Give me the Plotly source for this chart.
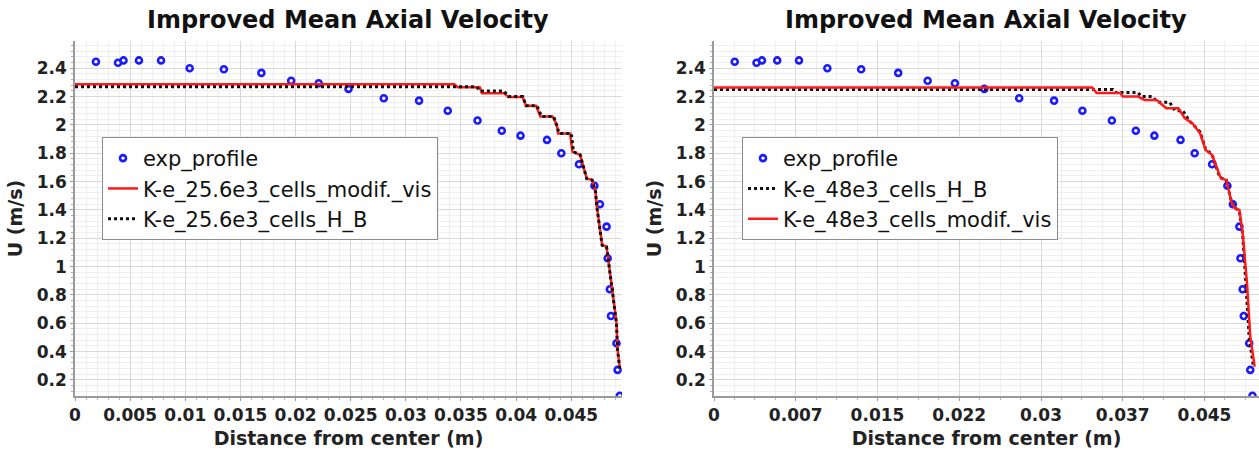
import plotly.graph_objects as go

# ---------------- data ----------------
exp_x = [0.0019, 0.0039, 0.0044, 0.0058, 0.0078, 0.0104, 0.0135, 0.0169, 0.0196, 0.0221,
         0.0248, 0.0280, 0.0312, 0.0338, 0.0365, 0.0387, 0.0404, 0.0428, 0.0441, 0.0457,
         0.0471, 0.0476, 0.0482, 0.0483, 0.0485, 0.0486, 0.0491, 0.0492, 0.0494]
exp_u = [2.446, 2.439, 2.455, 2.455, 2.455, 2.400, 2.393, 2.367, 2.311, 2.294,
         2.254, 2.188, 2.171, 2.100, 2.031, 1.959, 1.924, 1.894, 1.800, 1.722,
         1.571, 1.440, 1.282, 1.059, 0.840, 0.652, 0.459, 0.271, 0.089]

# left panel: 25.6e3 cells
l_mod_x = [0, 0.0344, 0.0347, 0.0367, 0.0369, 0.0389, 0.0393, 0.0406, 0.0409, 0.0418,
           0.0422, 0.0433, 0.0437, 0.0438, 0.0449, 0.0451, 0.0458, 0.0464, 0.0469, 0.0472,
           0.0473, 0.0476, 0.0478, 0.0482, 0.0485, 0.0488, 0.0491, 0.0492, 0.0494]
l_mod_u = [2.287, 2.287, 2.266, 2.266, 2.224, 2.224, 2.196, 2.196, 2.135, 2.135,
           2.060, 2.060, 2.000, 1.940, 1.940, 1.811, 1.788, 1.623, 1.611, 1.529,
           1.435, 1.282, 1.153, 1.141, 0.976, 0.788, 0.600, 0.412, 0.283]
l_hb_x = [0, 0.0364, 0.0367, 0.0389, 0.0393, 0.0406, 0.0409, 0.0419, 0.0423, 0.0434,
          0.0437, 0.0439, 0.0450, 0.0452, 0.0458, 0.0464, 0.0469, 0.0472, 0.0473, 0.0476,
          0.0478, 0.0482, 0.0485, 0.0488, 0.0491, 0.0492, 0.0494]
l_hb_u = [2.270, 2.270, 2.240, 2.240, 2.200, 2.200, 2.135, 2.135, 2.060, 2.060,
          1.990, 1.940, 1.940, 1.810, 1.790, 1.620, 1.610, 1.530, 1.430, 1.280,
          1.150, 1.140, 0.970, 0.790, 0.600, 0.410, 0.280]

# right panel: 48e3 cells
r_mod_x = [0, 0.0347, 0.0351, 0.0373, 0.0375, 0.0389, 0.0395, 0.0406, 0.0415, 0.0426,
           0.0432, 0.0439, 0.0446, 0.0451, 0.0457, 0.0465, 0.0470, 0.0475, 0.0478, 0.0482,
           0.0485, 0.0489, 0.0492, 0.0496]
r_mod_u = [2.263, 2.263, 2.225, 2.225, 2.200, 2.200, 2.176, 2.176, 2.117, 2.117,
           2.047, 2.011, 1.940, 1.823, 1.788, 1.623, 1.611, 1.447, 1.411, 1.400,
           1.235, 0.882, 0.506, 0.294]
r_hb_x = [0, 0.0366, 0.0368, 0.0389, 0.0392, 0.0402, 0.0407, 0.0418, 0.0423, 0.0430,
          0.0436, 0.0446, 0.0451, 0.0457, 0.0464, 0.0470, 0.0475, 0.0479, 0.0482, 0.0485,
          0.0488, 0.0491, 0.0495]
r_hb_u = [2.249, 2.249, 2.228, 2.228, 2.200, 2.200, 2.160, 2.160, 2.100, 2.100,
          2.030, 1.950, 1.830, 1.790, 1.630, 1.610, 1.450, 1.410, 1.390, 1.230,
          0.880, 0.500, 0.290]

left_tickvals = [0, 0.005, 0.01, 0.015, 0.02, 0.025, 0.03, 0.035, 0.04, 0.045]
left_ticktext = ["0", "0.005", "0.01", "0.015", "0.02", "0.025", "0.03", "0.035", "0.04", "0.045"]
right_tickvals = [0, 0.0075, 0.015, 0.0225, 0.03, 0.0375, 0.045]
right_ticktext = ["0", "0.007", "0.015", "0.022", "0.03", "0.037", "0.045"]
y_tickvals = [0.2, 0.4, 0.6, 0.8, 1.0, 1.2, 1.4, 1.6, 1.8, 2.0, 2.2, 2.4]
y_ticktext = ["0.2", "0.4", "0.6", "0.8", "1", "1.2", "1.4", "1.6", "1.8", "2", "2.2", "2.4"]

title_text = "Improved Mean Axial Velocity"
x_title = "Distance from center (m)"
y_title = "U (m/s)"

# ---------------- styling ----------------
W, H = 1259, 452
FONT = "DejaVu Sans"
BLUE = "#1a1aff"
RED = "#ff1a1a"
BLACK = "#111111"

fig = go.Figure()

exp_marker = dict(symbol="circle-open", size=6, color=BLUE, line=dict(width=2.6, color=BLUE))

# left traces
fig.add_trace(go.Scatter(x=exp_x, y=exp_u, mode="markers", name="exp_profile",
                         marker=exp_marker, xaxis="x", yaxis="y", legend="legend"))
fig.add_trace(go.Scatter(x=l_mod_x, y=l_mod_u, mode="lines", name="K-e_25.6e3_cells_modif._vis",
                         line=dict(color=RED, width=2.5), xaxis="x", yaxis="y", legend="legend"))
fig.add_trace(go.Scatter(x=l_hb_x, y=l_hb_u, mode="lines", name="K-e_25.6e3_cells_H_B",
                         line=dict(color=BLACK, width=3, dash="3px,3px"), xaxis="x", yaxis="y",
                         legend="legend"))
# right traces
fig.add_trace(go.Scatter(x=exp_x, y=exp_u, mode="markers", name="exp_profile",
                         marker=exp_marker, xaxis="x2", yaxis="y2", legend="legend2"))
fig.add_trace(go.Scatter(x=r_hb_x, y=r_hb_u, mode="lines", name="K-e_48e3_cells_H_B",
                         line=dict(color=BLACK, width=3, dash="3px,3px"), xaxis="x2", yaxis="y2",
                         legend="legend2"))
fig.add_trace(go.Scatter(x=r_mod_x, y=r_mod_u, mode="lines", name="K-e_48e3_cells_modif._vis",
                         line=dict(color=RED, width=2.5), xaxis="x2", yaxis="y2", legend="legend2"))

ydom = [(H - 396) / H, (H - 41) / H]
ldom = [75 / W, 622 / W]
rdom = [714 / W, 1.0]

TICKFONT = dict(family=FONT, size=17, color="#222222", weight="bold")
AXTITLEFONT = dict(family=FONT, size=19, color="#222222", weight="bold")

def xaxis(dom, rng, tv, tt, minor_dt, anchor):
    return dict(domain=dom, range=rng, anchor=anchor, tickmode="array", tickvals=tv, ticktext=tt,
                showgrid=True, gridcolor="#d9d9d9", gridwidth=1, zeroline=False,
                showline=True, linecolor="#9a9a9a", linewidth=1.5,
                ticks="outside", ticklen=3, tickcolor="#9a9a9a",
                minor=dict(dtick=minor_dt, showgrid=True, gridcolor="#efefef", ticks="outside",
                           ticklen=2, tickcolor="#b0b0b0"),
                tickfont=TICKFONT,
                title=dict(text=x_title, font=AXTITLEFONT, standoff=8),
                automargin=False, fixedrange=True)

def yaxis(dom, anchor):
    return dict(domain=dom, range=[0.087, 2.592], anchor=anchor, tickmode="array",
                tickvals=y_tickvals, ticktext=y_ticktext,
                showgrid=True, gridcolor="#d9d9d9", gridwidth=1, zeroline=False,
                showline=True, linecolor="#9a9a9a", linewidth=1.5,
                ticks="outside", ticklen=3, tickcolor="#9a9a9a",
                minor=dict(dtick=0.04, showgrid=True, gridcolor="#efefef", ticks="outside",
                           ticklen=2, tickcolor="#b0b0b0"),
                tickfont=TICKFONT,
                title=dict(text=y_title, font=AXTITLEFONT, standoff=9),
                automargin=False, fixedrange=True)

legend_common = dict(bgcolor="white", bordercolor="#8c8c8c", borderwidth=1,
                     font=dict(family=FONT, size=21, color="#111111"),
                     xanchor="left", yanchor="top", tracegroupgap=0, itemwidth=30)

TITLEFONT = dict(family=FONT, size=24, color="#111111", weight="bold")

fig.update_layout(
    width=W, height=H, autosize=False,
    margin=dict(l=0, r=0, t=0, b=0),
    paper_bgcolor="white", plot_bgcolor="white",
    xaxis=xaxis(ldom, [0, 0.0496], left_tickvals, left_ticktext, 0.001, "y"),
    yaxis=yaxis(ydom, "x"),
    xaxis2=xaxis(rdom, [0, 0.0500], right_tickvals, right_ticktext, 0.001875, "y2"),
    yaxis2=yaxis(ydom, "x2"),
    legend=dict(x=102 / W, y=1 - 137 / H, **legend_common),
    legend2=dict(x=742 / W, y=1 - 137 / H, **legend_common),
    showlegend=True,
    annotations=[
        dict(text=title_text, x=(ldom[0] + ldom[1]) / 2, y=1 - 20 / H, xref="paper", yref="paper",
             xanchor="center", yanchor="middle", showarrow=False, font=TITLEFONT),
        dict(text=title_text, x=(rdom[0] + rdom[1]) / 2, y=1 - 20 / H, xref="paper", yref="paper",
             xanchor="center", yanchor="middle", showarrow=False, font=TITLEFONT),
    ],
)

fig.write_html("out.html")
